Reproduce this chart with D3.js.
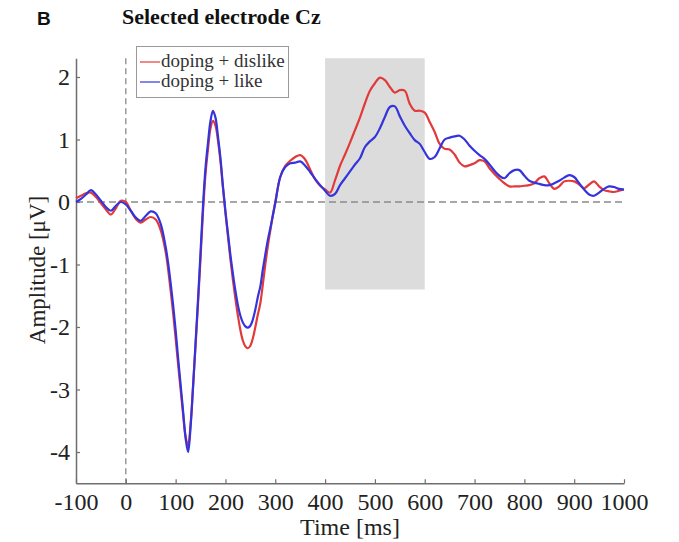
<!DOCTYPE html>
<html>
<head>
<meta charset="utf-8">
<script src="https://cdn.jsdelivr.net/npm/d3@7"></script>
<style>
  body { margin: 0; background: #fff; }
  svg { display: block; }
</style>
</head>
<body>
<svg id="chart" width="679" height="542"></svg>
<script>
// sample times (ms): 10 ms steps, 5 ms steps around the N1/P2/N2 complex
const times = [].concat(
  d3.range(-100, 81, 10),
  d3.range(85, 301, 5),
  d3.range(310, 1001, 10)
);

// doping + dislike (red)
const dislike = [
  // -100 .. 80
  0.06, 0.10, 0.14, 0.15, 0.08, -0.02, -0.12, -0.20, -0.10, 0.02,
  0.00, -0.14, -0.27, -0.33, -0.28, -0.24, -0.28, -0.45, -0.80,
  // 85 .. 300
  -1.08, -1.42, -1.78, -2.18, -2.60, -3.00, -3.40, -3.75, -3.90, -3.55,
  -2.95, -2.30, -1.62, -0.90, -0.15, 0.45, 0.85, 1.18, 1.30, 1.22,
  0.98, 0.65, 0.22, -0.18, -0.55, -0.92, -1.25, -1.55, -1.82, -2.05,
  -2.22, -2.31, -2.34, -2.30, -2.18, -2.00, -1.80, -1.62, -1.32, -1.00,
  -0.71, -0.46, -0.22, 0.00,
  // 310 .. 1000
  0.40, 0.58, 0.66, 0.72, 0.75, 0.68, 0.52, 0.36, 0.26, 0.20,
  0.15, 0.35, 0.58, 0.76, 0.95, 1.15, 1.35, 1.58, 1.78, 1.90,
  1.99, 1.95, 1.84, 1.75, 1.79, 1.78, 1.57, 1.46, 1.46, 1.43,
  1.28, 1.12, 0.93, 0.85, 0.84, 0.76, 0.63, 0.57, 0.59, 0.62,
  0.67, 0.65, 0.54, 0.45, 0.37, 0.30, 0.25, 0.25, 0.25, 0.26,
  0.27, 0.30, 0.38, 0.41, 0.30, 0.21, 0.25, 0.33, 0.34, 0.33,
  0.28, 0.22, 0.28, 0.33, 0.25, 0.19, 0.17, 0.16, 0.18, 0.20
];

// doping + like (blue)
const like = [
  // -100 .. 80
  0.00, 0.05, 0.12, 0.19, 0.12, 0.02, -0.08, -0.14, -0.06, 0.00,
  -0.04, -0.14, -0.25, -0.30, -0.22, -0.15, -0.18, -0.35, -0.72,
  // 85 .. 300
  -0.98, -1.30, -1.65, -2.05, -2.50, -2.92, -3.35, -3.78, -4.00, -3.60,
  -2.95, -2.25, -1.55, -0.80, -0.05, 0.55, 0.95, 1.30, 1.46, 1.35,
  1.05, 0.70, 0.25, -0.15, -0.50, -0.85, -1.15, -1.42, -1.65, -1.82,
  -1.93, -1.99, -2.01, -1.98, -1.88, -1.72, -1.52, -1.35, -1.08, -0.84,
  -0.61, -0.42, -0.22, -0.02,
  // 310 .. 1000
  0.40, 0.56, 0.62, 0.63, 0.65, 0.58, 0.48, 0.37, 0.27, 0.18,
  0.10, 0.13, 0.27, 0.38, 0.49, 0.60, 0.70, 0.88, 0.97, 1.04,
  1.18, 1.36, 1.52, 1.53, 1.37, 1.22, 1.10, 0.99, 0.93, 0.80,
  0.69, 0.72, 0.86, 1.00, 1.03, 1.05, 1.06, 1.00, 0.90, 0.82,
  0.75, 0.69, 0.60, 0.50, 0.42, 0.38, 0.46, 0.51, 0.51, 0.42,
  0.34, 0.31, 0.29, 0.27, 0.27, 0.30, 0.34, 0.39, 0.43, 0.40,
  0.30, 0.20, 0.12, 0.10, 0.15, 0.21, 0.25, 0.24, 0.21, 0.20
];

const xTicks = [-100, 0, 100, 200, 300, 400, 500, 600, 700, 800, 900, 1000];
const yTicks = [-4, -3, -2, -1, 0, 1, 2];
const window_ms = [400, 600];
const window_uv = [-1.4, 2.3];
const seriesNames = ['doping + dislike', 'doping + like'];

const RED = '#e23a3a';
const BLUE = '#3434dc';
const SERIF = '"Liberation Serif", "Times New Roman", serif';

const svg = d3.select('#chart');

const x = d3.scaleLinear().domain([-100, 1000]).range([76, 624]);
const y = d3.scaleLinear().domain([-4.5, 2.3]).range([483.25, 58.25]);

// analysis window
svg.append('rect')
  .attr('x', x(window_ms[0]))
  .attr('y', y(window_uv[1]))
  .attr('width', x(window_ms[1]) - x(window_ms[0]))
  .attr('height', y(window_uv[0]) - y(window_uv[1]))
  .attr('fill', '#dcdcdc');

// reference lines
svg.append('line')
  .attr('x1', x(0)).attr('x2', x(0))
  .attr('y1', y(2.3)).attr('y2', y(-4.5))
  .attr('stroke', '#8a8a8a')
  .attr('stroke-width', 1.3)
  .attr('stroke-dasharray', '6,4');

svg.append('line')
  .attr('x1', x(-100)).attr('x2', x(1000))
  .attr('y1', y(0)).attr('y2', y(0))
  .attr('stroke', '#8a8a8a')
  .attr('stroke-width', 1.6)
  .attr('stroke-dasharray', '7,4');

// axes
const xAxis = d3.axisBottom(x)
  .tickValues(xTicks)
  .tickFormat((d) => String(d))
  .tickSizeInner(-4)
  .tickSizeOuter(0)
  .tickPadding(10);

const yAxis = d3.axisLeft(y)
  .tickValues(yTicks)
  .tickFormat((d) => String(d))
  .tickSizeInner(-4)
  .tickSizeOuter(0)
  .tickPadding(6);

const gx = svg.append('g')
  .attr('transform', `translate(0,${y(-4.5)})`)
  .call(xAxis);

const gy = svg.append('g')
  .attr('transform', `translate(${x(-100)},0)`)
  .call(yAxis);

[gx, gy].forEach((g) => {
  g.select('.domain').attr('stroke', '#6e6e6e').attr('stroke-width', 1.5);
  g.selectAll('.tick line').attr('stroke', '#6e6e6e').attr('stroke-width', 1.2);
  g.selectAll('.tick text')
    .attr('fill', '#222')
    .attr('font-family', SERIF)
    .attr('font-size', '24px');
});

// waveforms
const line = d3.line()
  .x((d) => x(d[0]))
  .y((d) => y(d[1]))
  .curve(d3.curveCatmullRom.alpha(0.5));

svg.append('path')
  .datum(times.map((t, i) => [t, dislike[i]]))
  .attr('d', line)
  .attr('fill', 'none')
  .attr('stroke', RED)
  .attr('stroke-width', 2.2)
  .attr('stroke-linejoin', 'round');

svg.append('path')
  .datum(times.map((t, i) => [t, like[i]]))
  .attr('d', line)
  .attr('fill', 'none')
  .attr('stroke', BLUE)
  .attr('stroke-width', 2.2)
  .attr('stroke-linejoin', 'round');

// legend
const legend = svg.append('g');
legend.append('rect')
  .attr('x', 136.5).attr('y', 46.5)
  .attr('width', 152).attr('height', 51)
  .attr('fill', '#fff')
  .attr('stroke', '#999')
  .attr('stroke-width', 1);

[RED, BLUE].forEach((c, i) => {
  const ly = 62 + i * 20;
  legend.append('line')
    .attr('x1', 140).attr('x2', 160)
    .attr('y1', ly).attr('y2', ly)
    .attr('stroke', c)
    .attr('stroke-width', 1.2);
  legend.append('text')
    .attr('x', 161)
    .attr('y', ly + 5)
    .attr('fill', '#333')
    .attr('font-family', SERIF)
    .attr('font-size', '19px')
    .text(seriesNames[i]);
});

// axis titles
svg.append('text')
  .attr('x', x(450))
  .attr('y', 535)
  .attr('text-anchor', 'middle')
  .attr('fill', '#222')
  .attr('font-family', SERIF)
  .attr('font-size', '24px')
  .text('Time [ms]');

svg.append('text')
  .attr('transform', 'translate(45,270) rotate(-90)')
  .attr('text-anchor', 'middle')
  .attr('fill', '#222')
  .attr('font-family', SERIF)
  .attr('font-size', '23px')
  .text('Amplitude [\u03bcV]');

// panel label and title
svg.append('text')
  .attr('x', 37)
  .attr('y', 25)
  .attr('fill', '#111')
  .attr('font-family', '"Liberation Sans", Arial, sans-serif')
  .attr('font-weight', 'bold')
  .attr('font-size', '19px')
  .text('B');

svg.append('text')
  .attr('x', 122)
  .attr('y', 24)
  .attr('fill', '#111')
  .attr('font-family', SERIF)
  .attr('font-weight', 'bold')
  .attr('font-size', '22px')
  .text('Selected electrode Cz');
</script>
</body>
</html>
